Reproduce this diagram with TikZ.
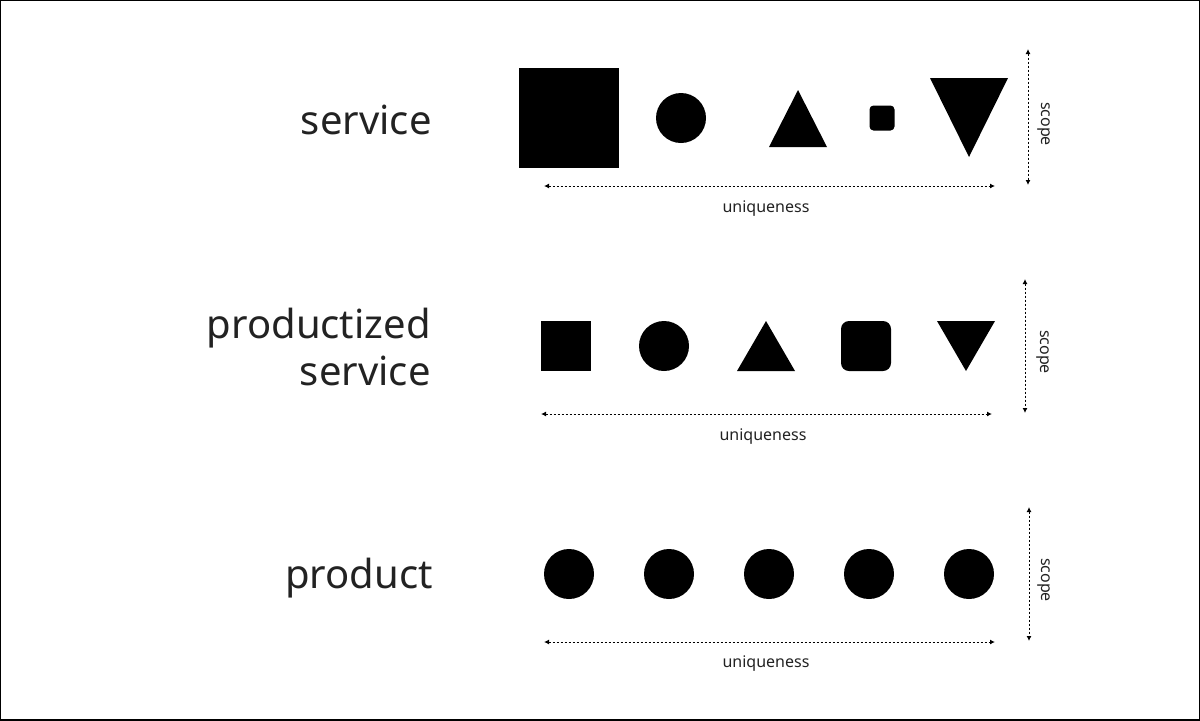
\documentclass[tikz,border=0pt]{standalone}
\usepackage{fontspec}
\setmainfont{Noto Sans}
\usetikzlibrary{arrows.meta}

\definecolor{inkgray}{HTML}{222222}

\begin{document}
\begin{tikzpicture}[
  x = 0.5pt, y = -0.5pt,
  rowlabel/.style = {anchor=base east, inner sep=0pt, text=inkgray, font=\fontsize{20}{20}\selectfont},
  axislabel/.style = {inner sep=0pt, text=inkgray, font=\fontsize{8}{8}\selectfont},
  axis/.style = {{Latex[length=2.5pt,width=2.5pt]}-{Latex[length=2.5pt,width=2.5pt]}, line width=0.5pt, dash pattern=on 1pt off 1pt},
  dot/.style = {circle, fill=black, inner sep=0pt, minimum size=25pt},
  block/.style = {rectangle, fill=black, inner sep=0pt, minimum size=#1},
  ]
  \useasboundingbox (0,0) rectangle (1200,720);
  \draw[line width=1pt] (0,0) rectangle (1200,720);

  % service
  \node[rowlabel] (service) at (432,134) {service};
  \node[block=50pt] (s1) at (569,118) {};
  \node[dot] (s2) at (681,118) {};
  \fill (798,90) -- (827,147) -- (769,147) -- cycle;
  \node[block=12.5pt, rounded corners=2pt] (s4) at (882,118) {};
  \fill (930,78) -- (1008,78) -- (969,157) -- cycle;
  \coordinate (u1a) at (544,186);
  \coordinate (u1b) at (995,186);
  \draw[axis] (u1a) -- (u1b);
  \node[axislabel, anchor=base] (u1) at (766,212) {uniqueness};
  \coordinate (c1a) at (1028,49);
  \coordinate (c1b) at (1028,185);
  \draw[axis] (c1a) -- (c1b);
  \node[axislabel, rotate=-90] (c1) at (1044,124) {scope};

  % productized service
  \node[rowlabel] (prodserv) at (431,338) {productized};
  \node[rowlabel] (prodserv2) at (431,385) {service};
  \node[block=25pt] (m1) at (566,346) {};
  \node[dot] (m2) at (664,346) {};
  \fill (766,321) -- (795,371) -- (737,371) -- cycle;
  \node[block=25pt, rounded corners=4pt] (m4) at (866,346) {};
  \fill (937,321) -- (995,321) -- (966,371) -- cycle;
  \coordinate (u2a) at (541,414);
  \coordinate (u2b) at (992,414);
  \draw[axis] (u2a) -- (u2b);
  \node[axislabel, anchor=base] (u2) at (763,440) {uniqueness};
  \coordinate (c2a) at (1025,279);
  \coordinate (c2b) at (1025,413);
  \draw[axis] (c2a) -- (c2b);
  \node[axislabel, rotate=-90] (c2) at (1043,352) {scope};

  % product
  \node[rowlabel] (product) at (433,588) {product};
  \foreach \i in {1,...,5}
    \node[dot] (p\i) at (469+100*\i,574) {};
  \coordinate (u3a) at (544,642);
  \coordinate (u3b) at (995,642);
  \draw[axis] (u3a) -- (u3b);
  \node[axislabel, anchor=base] (u3) at (766,667) {uniqueness};
  \coordinate (c3a) at (1029,507);
  \coordinate (c3b) at (1029,641);
  \draw[axis] (c3a) -- (c3b);
  \node[axislabel, rotate=-90] (c3) at (1044,580) {scope};
\end{tikzpicture}
\end{document}
